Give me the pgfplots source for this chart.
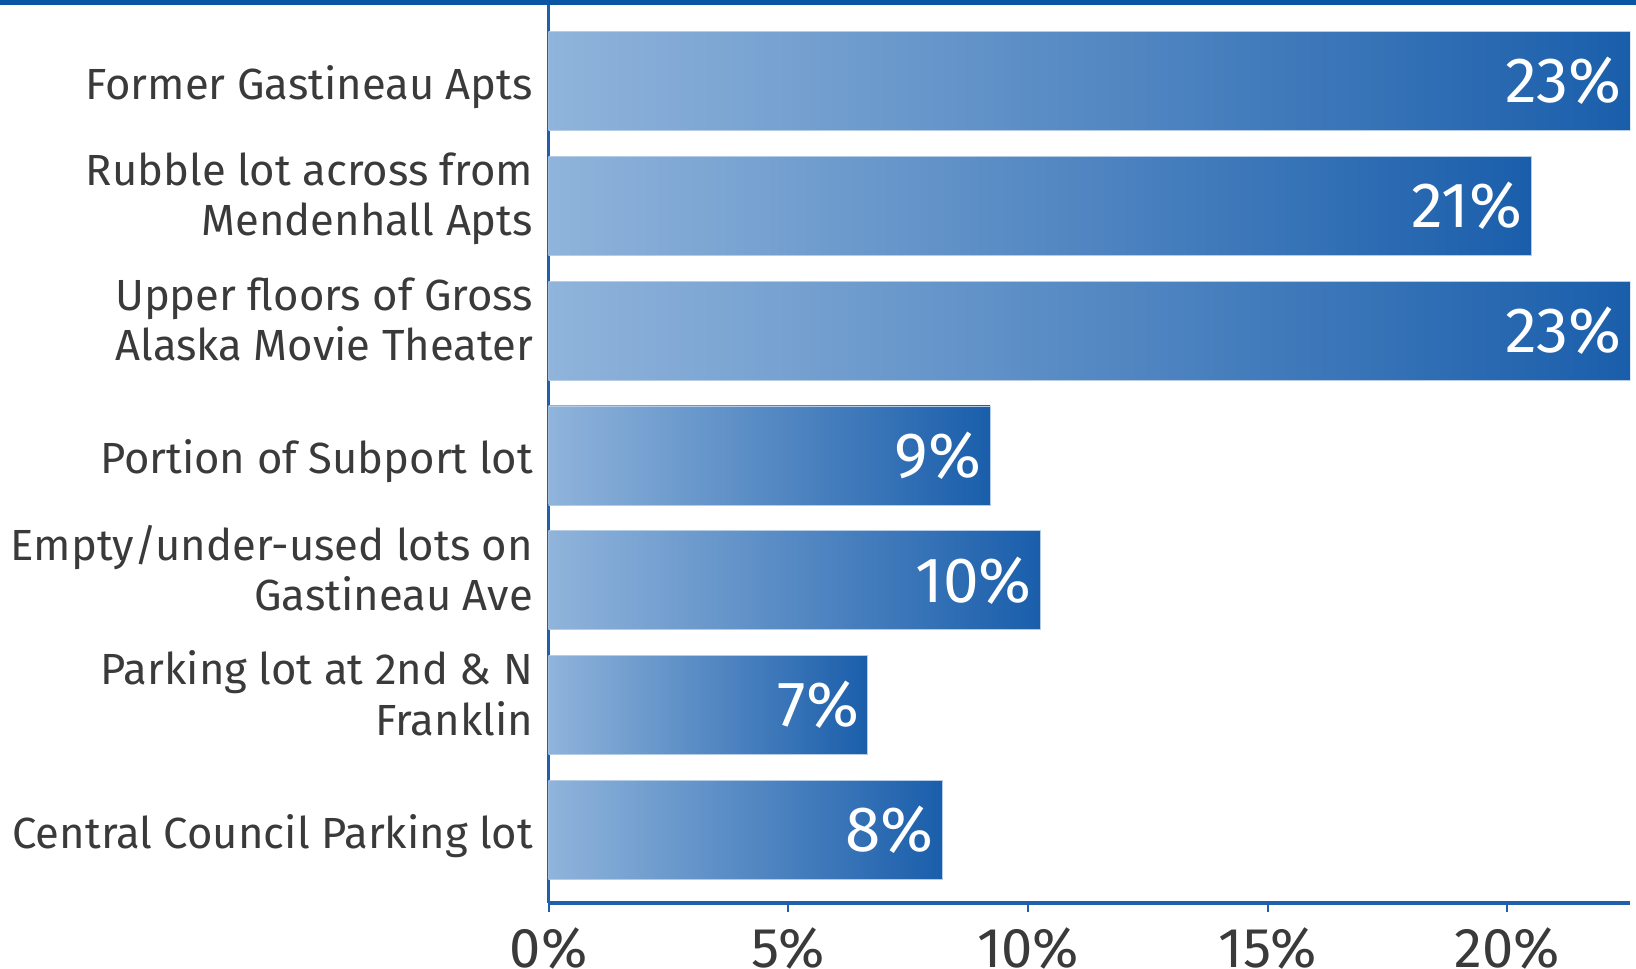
\documentclass[border=0pt]{standalone}
\usepackage{pgfplots}
\pgfplotsset{compat=1.18}
\usepackage{fontspec}
\setmainfont{Fira Sans}
\definecolor{barL}{HTML}{90B4DB}
\definecolor{barR}{HTML}{1A5EAB}
\definecolor{axisblue}{HTML}{1E60AC}
\definecolor{topband}{HTML}{0B55A5}
\definecolor{txt}{HTML}{3A3A3A}
\definecolor{barEdge}{HTML}{B5CCE6}
\pgfplotsset{gbar/.style={bar shift=0pt, draw=barEdge, line width=0.4pt, left color=barL, right color=barR}}
\begin{document}
\begin{tikzpicture}
\useasboundingbox (0,0) rectangle (818pt,484pt);
\begin{axis}[
  at={(274.3pt,32.5pt)}, anchor=south west,
  scale only axis, width=540.7pt, height=449pt,
  xmin=0, xmax=22.56, ymin=-0.584, ymax=6.608,
  axis x line*=bottom, axis y line*=left,
  axis line style={color=axisblue, line width=1.5pt},
  xtick={0,5,10,15,20},
  xticklabels={0\%,5\%,10\%,15\%,20\%},
  xtick align=outside, major tick length=4.5pt,
  xtick style={color=axisblue, line width=1pt},
  xticklabel style={font=\fontsize{28}{32}\selectfont, text=txt, anchor=north, inner sep=0pt, yshift=-7.5pt},
  ytick={0,3,6},
  yticklabels={\strut Central Council Parking lot, \strut Portion of Subport lot, \strut Former Gastineau Apts},
  extra y ticks={1,2,4,5},
  extra y tick labels={{\strut Parking lot at 2nd \& N\\\strut Franklin}, {\strut Empty/under-used lots on\\\strut Gastineau Ave}, {\strut Upper floors of Gross\\\strut Alaska Movie Theater}, {\strut Rubble lot across from\\\strut Mendenhall Apts}},
  extra y tick style={yticklabel style={yshift=6.7pt}},
  ytick style={draw=none},
  yticklabel style={font=\fontsize{21.8}{25.2}\selectfont, text=txt, align=right, anchor=east, inner sep=0pt, xshift=-3.1pt, yshift=-4.1pt},
  xbar, bar width=49.5pt,
  point meta=explicit symbolic,
  nodes near coords={\pgfplotspointmeta\%},
  nodes near coords style={anchor=east, xshift=-4.2pt, text=white, font=\fontsize{32}{36}\selectfont, inner sep=0pt},
]
\addplot[gbar] table[x=x, y=y, meta=m] {
x y m
22.56 6 23
};
\addplot[gbar] table[x=x, y=y, meta=m] {
x y m
20.5 5 21
};
\addplot[gbar] table[x=x, y=y, meta=m] {
x y m
22.56 4 23
};
\addplot[gbar] table[x=x, y=y, meta=m] {
x y m
9.21 3 9
};
\addplot[gbar] table[x=x, y=y, meta=m] {
x y m
10.26 2 10
};
\addplot[gbar] table[x=x, y=y, meta=m] {
x y m
6.66 1 7
};
\addplot[gbar] table[x=x, y=y, meta=m] {
x y m
8.21 0 8
};
\end{axis}
\fill[topband] (0,481.5pt) rectangle (818pt,484pt);
\end{tikzpicture}
\end{document}
